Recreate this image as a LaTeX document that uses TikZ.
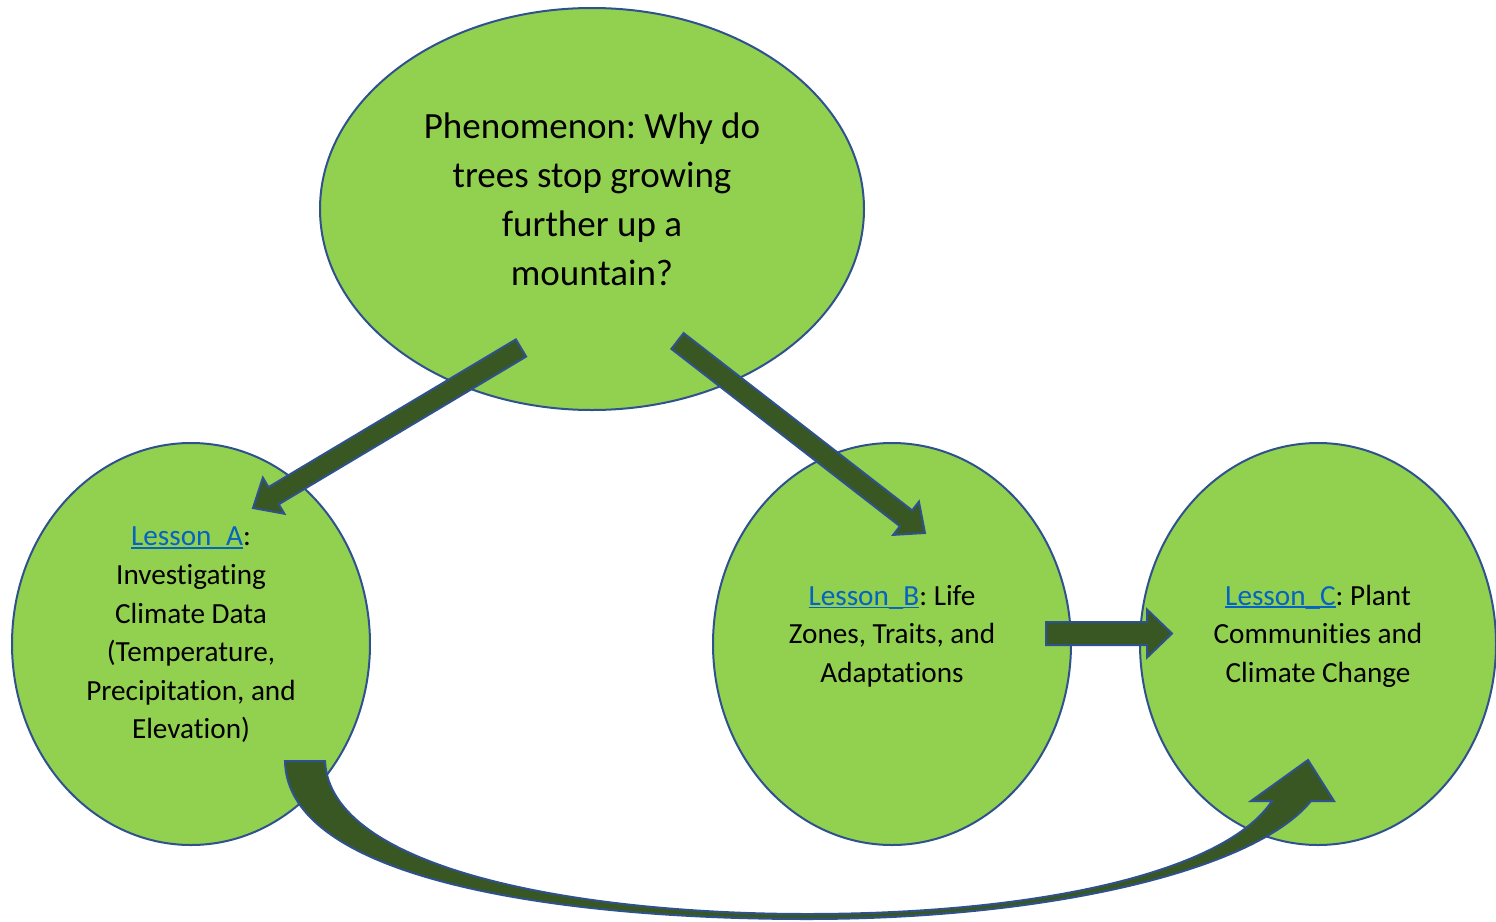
\documentclass[tikz,border=0pt]{standalone}
\usepackage{fontspec}
\setmainfont{Carlito}[Ligatures={NoCommon}]
\usetikzlibrary{shapes.geometric,calc}
\definecolor{leaf}{HTML}{92D050}
\definecolor{rim}{HTML}{2F528F}
\definecolor{arrowgreen}{HTML}{385723}
\definecolor{linkblue}{HTML}{0563C1}
\frenchspacing
\newcommand\lnk[1]{\textcolor{linkblue}{\setbox0\hbox{#1}\rlap{\rule[-0.11em]{\wd0}{0.06em}}\box0}}
\newcommand\blockarr[5]{%
  \coordinate (ba-h) at ($(#2)!#5!(#1)$);
  \filldraw[barrow] ($(#1)!#3!90:(#2)$) -- ($(ba-h)!#3!90:(#2)$) -- ($(ba-h)!#4!90:(#2)$) -- (#2)
    -- ($(ba-h)!#4!-90:(#2)$) -- ($(ba-h)!#3!-90:(#2)$) -- ($(#1)!#3!-90:(#2)$) -- cycle;
}
\begin{document}
\begin{tikzpicture}[x=1pt,y=-1pt,
  bubble/.style={ellipse, fill=leaf, draw=rim, line width=2pt, inner sep=0pt},
  barrow/.style={fill=arrowgreen, draw=rim, line width=2pt, line join=miter},
  big/.style={align=center, font=\fontsize{37}{49}\selectfont},
  small/.style={align=center, font=\fontsize{29.2}{38.6}\selectfont}]
\useasboundingbox (0,0) rectangle (1496,921);
% bubbles
\node[bubble, minimum width=544pt, minimum height=402pt] (phen) at (592,209) {};
\node[bubble, minimum width=358pt, minimum height=402pt] (la) at (191,644) {};
\node[bubble, minimum width=358pt, minimum height=402pt] (lb) at (892,644) {};
\node[bubble, minimum width=356pt, minimum height=402pt] (lc) at (1318,644) {};
% texts
\node[big] (phent) at (592,199) {Phenomenon: Why do\\trees stop growing\\further up a\\mountain?};
\node[small] (lat) at (191,635) {\lnk{Lesson\_A}:\\Investigating\\Climate Data\\(Temperature,\\Precipitation, and\\Elevation)};
\node[small] (lbt) at (892,636) {\lnk{Lesson\_B}: Life\\Zones, Traits, and\\Adaptations};
\node[small] (lct) at (1318,636) {\lnk{Lesson\_C}: Plant\\Communities and\\Climate Change};
% straight block arrows
\coordinate (a1t) at (521,348);
\coordinate (a1h) at (253,508);
\coordinate (a2t) at (677.5,341);
\coordinate (a2h) at (925,533);
\coordinate (a3t) at (1046,633.5);
\coordinate (a3h) at (1172,633.5);
\blockarr{a1t}{a1h}{10pt}{21pt}{24pt}
\blockarr{a2t}{a2h}{10pt}{21pt}{24pt}
\blockarr{a3t}{a3h}{11.5pt}{24pt}{25pt}
% curved block arrow from Lesson A to Lesson C
\coordinate (c1) at (285,761);
\coordinate (c2) at (325,761);
\coordinate (cb) at (807,919);
\coordinate (cbi) at (807,914);
\coordinate (ch) at (1308,760);
\filldraw[barrow] (c1) .. controls (287,880) and (560,919) .. (cb)
  .. controls (1050,919) and (1255,870) .. (1311,801) -- (1334,801) -- (ch) -- (1251,801) -- (1272,801)
  .. controls (1225,872) and (1040,914) .. (cbi)
  .. controls (580,914) and (330,870) .. (c2) -- cycle;
\end{tikzpicture}
\end{document}
